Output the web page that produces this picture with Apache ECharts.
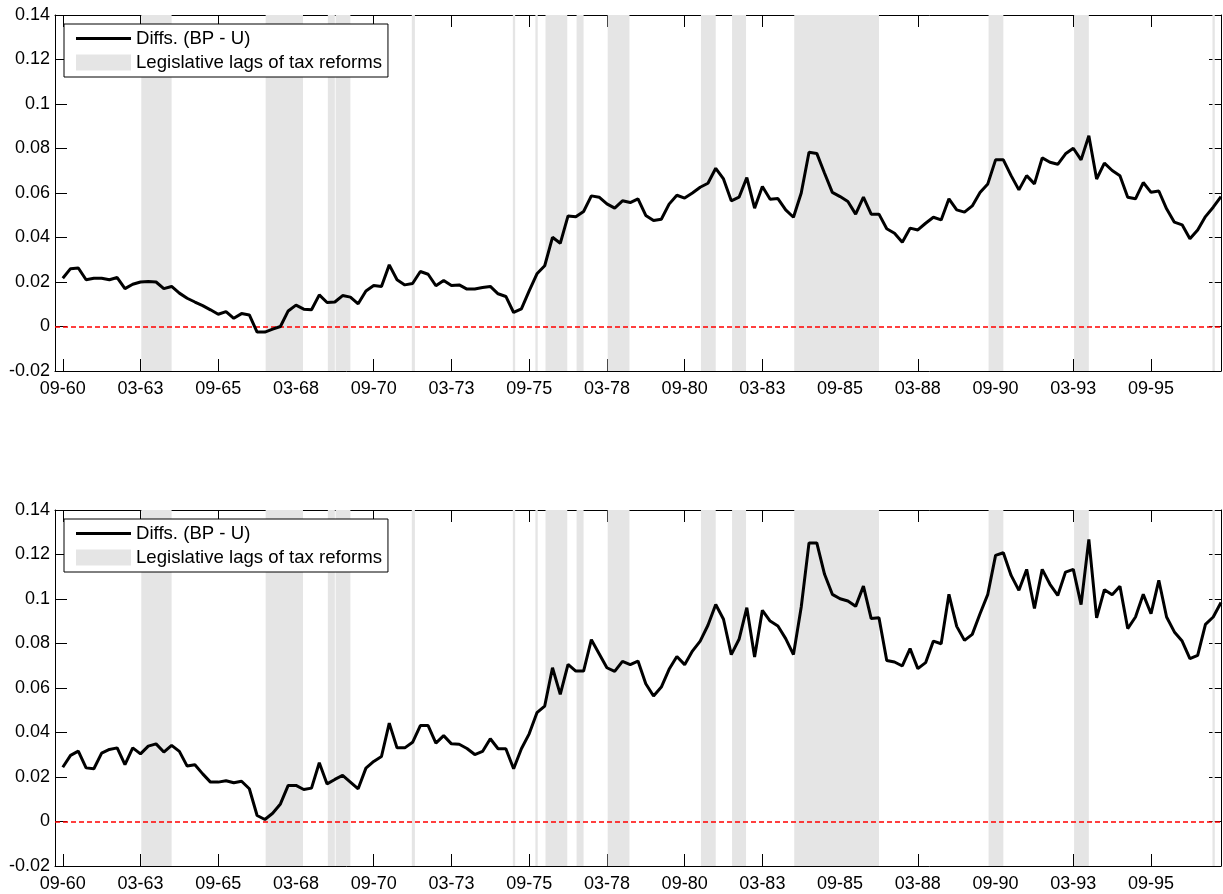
<!DOCTYPE html>
<html>
<head>
<meta charset="utf-8">
<script src="https://cdn.jsdelivr.net/npm/echarts@6/dist/echarts.min.js"></script>
<style>
html,body{margin:0;padding:0;background:#fff;}
#chart{width:1223px;height:894px;}
</style>
</head>
<body>
<div id="chart"></div>
<script>
// Quarter index 0 = 09-60 (Q3 1960), 149 = 12-97
const tickPositions = [0,10,20,30,40,50,60,70,80,90,100,110,120,130,140];
const tickLabels = ['09-60','03-63','09-65','03-68','09-70','03-73','09-75','03-78','09-80','03-83','09-85','03-88','09-90','03-93','09-95'];

const diffsTop = [
  0.0217,0.026,0.0263,0.021,0.0217,0.0217,0.021,0.022,0.017,0.019,
  0.020,0.0202,0.020,0.017,0.018,0.015,0.0127,0.011,0.0094,0.0075,
  0.0055,0.0067,0.0037,0.0058,0.0052,-0.0025,-0.0025,-0.0012,0.0,0.007,
  0.0096,0.0078,0.0075,0.0142,0.0108,0.011,0.0139,0.0132,0.0102,0.016,
  0.0184,0.018,0.0277,0.021,0.0187,0.0193,0.0247,0.0235,0.0183,0.0207,
  0.0184,0.0187,0.0168,0.0169,0.0175,0.018,0.0147,0.0135,0.0063,0.0079,
  0.016,0.0237,0.0273,0.0401,0.0374,0.0497,0.0493,0.0517,0.0587,0.0581,
  0.0551,0.0532,0.0565,0.0557,0.0574,0.0499,0.0476,0.0482,0.055,0.059,
  0.0577,0.060,0.0626,0.0644,0.0711,0.0663,0.0565,0.0581,0.0669,0.0532,
  0.0629,0.0572,0.0575,0.0524,0.0491,0.060,0.0783,0.0778,0.0689,0.0603,
  0.0584,0.0562,0.0505,0.0581,0.0505,0.0505,0.0439,0.0419,0.0379,0.0442,
  0.0434,0.0464,0.0491,0.0479,0.0574,0.0524,0.0514,0.0542,0.0602,0.0641,
  0.0749,0.0749,0.0678,0.0614,0.0678,0.0641,0.0758,0.0738,0.0729,0.0776,
  0.0801,0.0749,0.0857,0.0663,0.0734,0.0701,0.0678,0.0581,0.0574,0.0647,
  0.0603,0.0609,0.0529,0.0469,0.0457,0.0394,0.0434,0.0494,0.0536,0.0584
];

const diffsBottom = [
  0.0244,0.0297,0.0316,0.0241,0.0237,0.0307,0.0324,0.0331,0.0256,0.0331,
  0.0304,0.0339,0.0349,0.0312,0.0342,0.0315,0.0249,0.0255,0.0214,0.0177,
  0.0177,0.0183,0.0174,0.0181,0.0147,0.0027,0.0009,0.0037,0.0079,0.0162,
  0.0162,0.0144,0.015,0.0264,0.0169,0.0189,0.0207,0.0177,0.0147,0.024,
  0.027,0.0292,0.0442,0.0331,0.0331,0.0356,0.0431,0.0431,0.0352,0.0386,
  0.0349,0.0347,0.0328,0.0301,0.0315,0.0372,0.0327,0.0327,0.0237,0.0327,
  0.0394,0.0489,0.0519,0.0691,0.0571,0.0706,0.0676,0.0676,0.0817,0.0754,
  0.0691,0.0675,0.072,0.0705,0.0721,0.0619,0.0564,0.0604,0.0684,0.0742,
  0.0705,0.0766,0.0811,0.0882,0.0975,0.0909,0.075,0.0819,0.0961,0.0739,
  0.0949,0.0901,0.0879,0.0822,0.075,0.0964,0.1252,0.1252,0.1111,0.1021,
  0.1001,0.0991,0.0967,0.1058,0.0912,0.0916,0.0724,0.0717,0.0699,0.0777,
  0.0687,0.0714,0.0811,0.0799,0.1021,0.0877,0.0814,0.0841,0.0934,0.1021,
  0.1196,0.1208,0.1106,0.1039,0.1133,0.0957,0.1133,0.1066,0.1016,0.1121,
  0.1133,0.0975,0.1268,0.0915,0.1042,0.1019,0.1057,0.0867,0.0919,0.1021,
  0.0934,0.1084,0.0919,0.0852,0.0811,0.0732,0.0747,0.0886,0.0919,0.0984
];

// Legislative lag periods (start, end) in quarter-index units
const lagBands = [
  [10.1,14.0],[26.1,30.9],[34.1,35.0],[35.1,37.0],[44.9,45.3],
  [57.9,58.2],[60.8,61.1],[62.1,64.9],[66.1,67.0],[70.1,72.9],
  [82.1,84.0],[86.1,87.9],[94.1,105.0],[119.1,121.0],[130.1,132.0],
  [147.9,148.2]
];

const LINE_NAME = 'Diffs. (BP - U)';
const BAND_NAME = 'Legislative lags of tax reforms';
const FONT = "'Liberation Sans', Arial, Helvetica, sans-serif";
const X_MIN = -1, X_MAX = 149, Y_MIN = -0.02, Y_MAX = 0.14;

const chart = echarts.init(document.getElementById('chart'), null, {renderer:'canvas'});

const grids = [
  {left:55, width:1166, top:15, height:356},
  {left:55, width:1166, top:510, height:356}
];

function xAxes(g){
  const base = {
    type:'value', gridIndex:g, min:X_MIN, max:X_MAX,
    splitLine:{show:false},
    axisLine:{onZero:false, lineStyle:{color:'#000', width:1}},
    axisTick:{inside:true, length:12, customValues:tickPositions, lineStyle:{color:'#000', width:1}}
  };
  return [
    Object.assign({}, base, {position:'bottom',
      axisLabel:{customValues:tickPositions, color:'#000', fontSize:18, fontFamily:FONT, margin:9,
        formatter:function(v){ const k = tickPositions.indexOf(Math.round(v)); return k>=0?tickLabels[k]:''; }}}),
    Object.assign({}, base, {position:'top', axisLabel:{show:false}})
  ];
}
function yAxes(g){
  const base = {
    type:'value', gridIndex:g, min:Y_MIN, max:Y_MAX, interval:0.02,
    splitLine:{show:false},
    axisLine:{onZero:false, show:true, lineStyle:{color:'#000', width:1}},
    axisTick:{inside:true, length:12, lineStyle:{color:'#000', width:1}}
  };
  return [
    Object.assign({}, base, {position:'left',
      axisLabel:{color:'#000', fontSize:18, fontFamily:FONT, margin:5,
        formatter:function(v){ return String(parseFloat(v.toFixed(4))); }}}),
    Object.assign({}, base, {position:'right', axisLabel:{show:false}})
  ];
}

function bandSeries(g){
  return {
    name:BAND_NAME, type:'custom', xAxisIndex:g*2, yAxisIndex:g*2,
    itemStyle:{color:'#e5e5e5'}, z:1, silent:true, clip:true,
    encode:{x:[0,1]},
    data:lagBands,
    renderItem:function(params, api){
      const p0 = api.coord([api.value(0), Y_MAX]);
      const p1 = api.coord([api.value(1), Y_MIN]);
      return {type:'rect', shape:{x:p0[0], y:p0[1], width:p1[0]-p0[0], height:p1[1]-p0[1]},
              style:{fill:'#e5e5e5'}};
    }
  };
}
function lineSeries(g, values){
  return {
    name:LINE_NAME, type:'line', xAxisIndex:g*2, yAxisIndex:g*2,
    data:values.map(function(v,i){ return [i, v]; }),
    showSymbol:false, symbol:'none', z:5,
    lineStyle:{color:'#000', width:3},
    itemStyle:{color:'#000'},
    markLine:{silent:true, symbol:'none', label:{show:false}, animation:false,
      lineStyle:{color:'#ff0000', type:[5,3], width:1.5},
      data:[{yAxis:0}]}
  };
}
function legend(top){
  return {
    left:64, top:top, orient:'vertical',
    backgroundColor:'#fff', borderColor:'#000', borderWidth:1,
    padding:[5,6,5,12], itemGap:5, itemWidth:55, itemHeight:16,
    textStyle:{color:'#000', fontSize:18.6, fontFamily:FONT},
    selectedMode:false,
    data:[
      {name:LINE_NAME, icon:'path://M0,0h0.01v0.01h-0.01z M0,6.5h55v3h-55z M0,15.99h0.01v0.01h-0.01z', itemStyle:{color:'#000'}},
      {name:BAND_NAME, icon:'rect', itemStyle:{color:'#e5e5e5'}}
    ]
  };
}

chart.setOption({
  animation:false,
  backgroundColor:'#fff',
  textStyle:{fontFamily:FONT},
  grid:grids,
  legend:[legend(24), legend(519)],
  xAxis:xAxes(0).concat(xAxes(1)),
  yAxis:yAxes(0).concat(yAxes(1)),
  series:[
    bandSeries(0), lineSeries(0, diffsTop),
    bandSeries(1), lineSeries(1, diffsBottom)
  ]
});
</script>
</body>
</html>
